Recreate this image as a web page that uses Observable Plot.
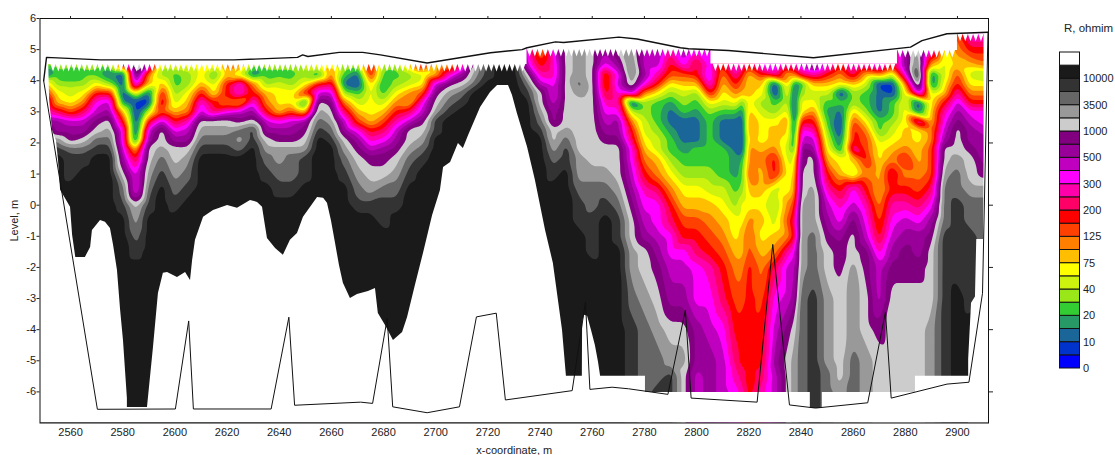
<!DOCTYPE html>
<html><head><meta charset="utf-8">
<script src="https://cdn.jsdelivr.net/npm/d3@7"></script>
<script src="https://cdn.jsdelivr.net/npm/@observablehq/plot@0.6"></script>
<style>
html,body{margin:0;padding:0;background:#fff;overflow:hidden}
#wrap{position:relative;width:1115px;height:455px;font-family:"Liberation Sans",Arial,sans-serif}
#wrap svg{display:block}
#leg{position:absolute;left:1059px;top:52px}
#ttl{position:absolute;left:1064px;top:22px;font-size:11.5px;color:#222}
</style></head><body><div id="wrap"><div id="main"></div><div id="leg"></div><div id="ttl">R, ohmim</div></div>
<script>
// resistivity classes (index = class), bottom to top of the legend
const classColors=["#0000ff","#0033cc","#1a6699","#269966","#33cc33","#99e619","#ccf20d","#ffff00","#ffbf00","#ff8000","#ff4000","#ff0000","#ff0066","#ff00aa","#ff00ff","#bf00bf","#990099","#800080","#cccccc","#999999","#666666","#333333","#1a1a1a","#ffffff"];
const legendLabels=["0","10","20","40","75","125","200","300","500","1000","3500","10000"];
const xTicks=[2560,2580,2600,2620,2640,2660,2680,2700,2720,2740,2760,2780,2800,2820,2840,2860,2880,2900];
const yTicks=[-6,-5,-4,-3,-2,-1,0,1,2,3,4,5,6];
const levels=[5,4.5,4.2,3.9,3.6,3.3,3,2.7,2.4,2.1,1.8,1.5,1,.5,0,-.5,-1,-1.5,-2,-3,-4,-5,-5.5,-6,-6.5];
const xs=[2550,2555,2560,2565,2570,2575,2580,2585,2590,2595,2600,2605,2610,2615,2620,2625,2630,2635,2640,2645,2650,2655,2660,2665,2670,2675,2680,2685,2690,2695,2700,2705,2710,2715,2720,2725,2730,2735,2740,2745,2750,2755,2760,2765,2770,2775,2780,2785,2790,2795,2800,2805,2810,2815,2817.5,2820,2825,2830,2835,2837.5,2840,2845,2850,2855,2860,2865,2870,2875,2880,2885,2890,2895,2900,2905,2910];
const columns=[
[5,5,1,8,11,14,14,16,18,20,22,22,22,22],
[5,5,4,5,7,8,12,16,16,19,21,22],
[5,5,3,5,6,7,10,15,16,17,20,21,21,22],
[5,5,4,5,7,9,12,15,16,18,20,21,22],
[5,5,4,7,11,14,15,17,18,20,21,22],
[5,5,2,5,11,15,16,18,19,20,21,22],
[11,11,1,1,1,3,8,11,14,14,15,16,18,20,21,22],
[20,20,18,15,7,1,1,1,1,2,8,11,14,14,18,19,20,21,22],
[15,15,9,8,2,1,6,11,15,16,18,18,19,20,21,22],
[6,6,5,8,11,12,10,15,18,18,19,20,21,22],
[7,7,4,4,5,6,8,11,14,16,18,18,19,20,21,22],
[7,7,5,5,7,8,9,13,15,16,18,19,20,21,22],
[7,7,7,8,11,14,15,18,19,20,21,22],
[7,7,4,6,7,11,12,18,19,20,21,22],
[9,9,8,11,11,9,14,18,19,20,21,22],
[9,9,6,14,14,8,15,17,20,19,20,22],
[5,5,2,9,11,14,16,18,21,21,22],
[5,5,4,5,8,9,11,15,16,18,19,20,21,22],
[5,5,4,6,7,7,8,14,16,17,19,19,20,21,22],
[5,5,4,5,7,7,10,15,16,17,19,20,20,21,22],
[6,6,5,7,11,2,8,16,17,18,19,21,21,22],
[7,7,3,11,15,18,19,20,21,22],
[7,7,9,12,15,17,18,19,20,21,22],
[5,5,4,2,5,9,12,15,16,18,19,20,21,22],
[5,5,2,1,4,6,8,10,14,16,17,18,19,20,21,22],
[12,12,11,8,7,7,7,8,11,13,15,17,18,19,21,22],
[5,5,4,3,4,6,8,10,12,14,16,17,18,20,21,21,22],
[5,5,4,5,7,9,11,13,15,16,17,18,19,20,21,22],
[8,8,5,6,9,8,12,15,18,18,19,20,21,22],
[12,12,6,7,10,14,15,17,18,19,20,21,22],
[8,8,8,15,17,18,19,21,21,22],
[8,8,13,17,19,20,21,22],
[12,12,16,18,20,21,22],
[18,18,19,20,22],
[21,21,21,22],
[22],
[22],
[14,15,18,20,21,22],
[9,11,13,15,18,18,19,20,21,22],
[14,13,13,14,14,15,16,16,18,18,19,20,21,22],
[18,18,18,18,18,18,18,18,19,20,21,21,22],
[19,19,19,20,19,18,18,18,18,18,18,19,19,20,21,21,22],
[18,18,18,18,18,18,18,18,18,18,18,18,19,20,20,21,21,21,22],
[16,14,10,10,11,13,14,15,16,17,18,18,19,20,21,22],
[18,16,14,15,14,13,14,16,16,17,18,18,18,19,20,21,21,22],
[19,20,20,19,15,1,6,9,11,12,14,14,15,16,17,18,18,19,19,20,21,21,21],
[15,15,16,14,9,5,5,6,6,7,8,9,11,13,14,15,16,18,18,19,20,20,20],
[16,15,13,11,7,4,4,4,5,6,6,8,9,12,14,14,15,16,17,18,19,20,20,21],
[13,11,10,7,5,3,2,2,3,4,4,5,7,9,11,12,14,14,15,16,18,19,21,21],
[16,14,10,8,6,5,4,2,2,2,3,4,5,7,8,10,11,14,15,16,18,19,18,18],
[14,11,11,8,5,4,3,2,2,2,4,4,5,7,8,10,11,12,14,14,16,16,15,15],
[15,14,15,14,11,7,5,4,4,4,4,4,5,6,8,9,10,11,13,14,15,16,16,16],
[11,11,9,8,7,6,4,2,2,2,4,4,4,6,7,8,9,10,11,12,14,15,15,15],
[14,14,13,11,9,7,4,2,2,2,2,3,3,4,5,7,7,8,9,10,11,12,13,14],
[14,13,11,9,8,4,2,1,1,1,1,3,4,5,7,7,8,8,9,10,11,11,12,13],
[11,11,8,8,8,7,8,9,9,8,9,9,10,8,7,9,10,10,11,11,11,11,11,11],
[15,14,11,8,7,5,6,7,7,7,8,9,8,8,7,8,7,8,9,10,11,11,12,13],
[15,15,13,1,1,4,5,7,8,8,9,11,11,6,5,6,8,9,12,14,15,16,15,15],
[13,13,8,8,7,6,7,9,8,7,6,6,7,7,9,10,9,13,15,15,17,18,18,18],
[13,13,9,2,1,1,1,1,1,2,3,6,7,8,10,12,11,14,15,16,18,19,19,19],
[15,15,12,3,5,7,7,11,14,15,17,17,18,18,19,19,19,19,19,20,20,20,20,20],
[17,17,13,8,6,7,9,11,13,15,16,18,18,19,19,19,20,20,20,21,21,21,21,21,21],
[14,14,11,8,6,4,3,4,5,6,7,8,11,13,15,16,17,18,18,19,19,19,20,20],
[11,11,9,7,1,4,2,1,1,2,3,7,8,11,13,14,16,17,17,18,18,18,18,19],
[14,14,12,8,5,5,8,10,11,11,13,8,6,14,15,17,18,18,19,19,19,20,20,20],
[13,13,8,6,4,4,5,7,9,10,10,11,9,11,13,14,15,17,17,18,18,19,19,19],
[15,15,9,1,2,2,2,4,4,6,7,7,8,8,9,10,11,13,15,15,17,18,18,18],
[11,11,6,1,1,4,4,5,6,7,8,9,12,11,13,14,15,16,17,18,18,18,18,18],
[16,16,14,9,7,7,7,7,8,8,9,11,9,11,13,15,16,17,17,18,18,18,18,18],
[19,20,22,20,15,1,2,14,7,7,8,8,9,10,12,14,16,16,17,18,18,18,18,18],
[14,8,2,2,6,7,8,8,9,9,10,10,10,12,14,16,17,18,18,18,19,19,19,19],
[7,6,6,7,8,11,13,14,15,16,18,18,19,20,20,20,21,21,21,21,21,21,21,21],
[9,8,10,11,13,15,16,17,18,18,18,19,20,20,21,21,21,21,21,22,22,22,22],
[11,8,6,7,9,11,14,15,16,16,17,18,18,19,20,20,21,21,21,21,22,22,22],
[11,9,5,7,9,11,14,14,15,16,16,16,17,19,20,20,20,21,21,22]
];
const crestX=[2900,2905,2910];
const crestV=[10,14,14];
// upper edge of the sampled data, left/right limits
const dataTopX=[2548.3,2735,2805.5,2877,2900,2911.9];
const dataTopY=[4.52,5,4.54,4.97,5.49,5.49];
const leftEdgeX=[2551.6,2551.6,2552,2553.1,2554.6,2555.4,2556.2,2560,2560.8,2562,2562];
const leftEdgeY=[6,4.65,3.37,2.4,2.08,1.44,.48,-.07,-.97,-1.67,-7];
const rightEdgeX=[2910.2,2910.2,2910,2910,2907.4,2906.9,2905.4,2904.3,2904.3];
const rightEdgeY=[6,1.4,-.7,-1.1,-1.1,-2.95,-3.15,-4.95,-7];
// where the unfilled (white, above 10000) ground begins, walking along x
const voidX=[2561.9,2565.7,2567.7,2568.4,2571.5,2573.4,2575.3,2576.5,2578,2579.2,2580.3,2581.8,2581.8,2589.5,2591.8,2593.7,2595.6,2597.2,2601,2604.1,2606,2606.8,2607.9,2611,2614.8,2620.2,2624,2629,2631.7,2633.6,2634.7,2635.5,2638.6,2641.6,2644.3,2647,2649.3,2654.7,2657,2658.5,2660,2661.6,2663.1,2664.6,2667.3,2670,2674.2,2676.9,2678,2680.7,2683.8,2687.3,2689.2,2692.2,2695.3,2698.8,2701.8,2703,2705.7,2708.7,2710.6,2712.6,2717.2,2721,2723.7,2727.9,2729.4,2731.3,2735.2,2738.2,2742.1,2745.1,2748.6,2750.1,2756.2,2756.3,2757,2758.2,2759.7,2761.2,2762.4,2763.2,2780.4,2780.4,2843.6,2843.6,2848.2,2848.2,2883.9,2883.9,2911.9];
const voidY=[-1.68,-1.68,-1.36,-.81,-.49,-.55,-.75,-1.29,-2.1,-3.38,-4.35,-6.21,-6.5,-6.5,-4.57,-2.84,-2.19,-2.16,-2.32,-2.16,-2.42,-1.78,-1.13,-.39,-.17,-.01,-.1,.15,.09,-.07,-.65,-1.07,-1.39,-1.61,-1.13,-.91,-.39,.25,.22,.06,-.49,-1.23,-1.94,-2.51,-3,-2.87,-2.77,-2.68,-3.48,-3.86,-4.35,-4.09,-3.61,-2.58,-1.55,-.33,.47,1.21,1.37,1.98,1.82,2.24,3.14,3.62,3.85,3.85,3.53,2.95,1.86,.8,-.81,-1.87,-4.02,-5.5,-5.5,-3.77,-3.54,-3.57,-4.02,-4.51,-5.05,-5.5,-5.5,-6.02,-6.02,-6.53,-6.53,-6.02,-6.02,-5.5,-5.5];
// sounding outline
const lineTopX=[2549.7,2550.8,2571.5,2622.6,2647,2649,2651,2663,2672,2678.8,2696.7,2721,2733.1,2735,2745.9,2749,2770.2,2777.2,2793.8,2796.9,2812.2,2844.8,2882,2886.4,2896,2911.7];
const lineTopY=[4,4.75,4.67,4.67,4.75,4.83,4.78,4.91,4.91,4.83,4.57,4.9,5,5.06,5.25,5.23,5.4,5.34,5.06,5.03,4.97,4.74,5.08,5.29,5.51,5.56];
const lineLowX=[2549.7,2570.3,2600.2,2605.3,2607.1,2636.9,2643.7,2645.9,2671.2,2675.8,2681.4,2683.5,2696.7,2709.1,2715.6,2723.2,2726.7,2752.3,2757.4,2759.1,2767.6,2773.9,2789,2795.7,2797.9,2823.2,2829.2,2835.6,2845.6,2865.6,2872.4,2874.6,2896,2904.4,2909.6,2911.7];
const lineLowY=[4,-6.56,-6.55,-3.72,-6.55,-6.55,-3.6,-6.43,-6.33,-6.37,-3.64,-6.48,-6.67,-6.48,-3.59,-3.47,-6.26,-5.96,-3.11,-5.92,-5.85,-5.9,-6.08,-3.37,-6.2,-6.33,-1.26,-6.42,-6.52,-6.35,-3.43,-6.2,-5.75,-5.69,-2.83,5.56];

const points=[];
columns.forEach((c,i)=>{
  const col=levels.map((_,k)=>k<c.length?c[k]:c[c.length-1]);
  const ci=crestX.indexOf(xs[i]);
  const top=ci>=0?crestV[ci]:col[0];
  const place=X=>{
    points.push({x:X,y:6.1,v:top});
    if(ci>=0) points.push({x:X,y:5.5,v:top});
    col.forEach((v,k)=>points.push({x:X,y:levels[k],v}));
    points.push({x:X,y:-7.1,v:col[col.length-1]});
  };
  place(xs[i]);
  if(i===0) place(2548);
  if(i===columns.length-1) place(2912.2);
});
const notch=[];
[[2553.3,2735,4.52],[2736,2805.5,5],[2807.2,2877,4.54],[2878,2900,4.97],[2901,2910,5.49]].forEach(([a,b,y])=>{
  for(let x=a;x<b;x+=2) notch.push({x,y});
});
const toothDown={draw(c){c.moveTo(-2.65,-0.5);c.lineTo(2.65,-0.5);c.lineTo(0,7);c.closePath();}};
const font={fontFamily:"Liberation Sans, Arial, sans-serif",fontSize:"11px",color:"#222",background:"transparent"};
const blank=()=>"";

const chart=Plot.plot({
  width:1115,height:455,marginLeft:39.5,marginRight:127,marginTop:18,marginBottom:32.5,
  style:font,
  x:{domain:[2548.3,2911.9]},
  y:{domain:[-7,6]},
  color:{type:"threshold",domain:d3.range(.5,23),range:classColors},
  marks:[
    Plot.contour(points,{x:"x",y:"y",value:"v",fill:"value",stroke:"none",interpolate:"barycentric",pixelSize:1,blur:2,thresholds:d3.range(-.5,22)}),
    Plot.area(voidX,{x1:voidX,x2:voidX,y1:voidY,y2:voidX.map(()=>-7),fill:"white"}),
    Plot.area(dataTopX,{x1:dataTopX,x2:dataTopX,y1:dataTopY,y2:dataTopX.map(()=>6),fill:"white",curve:"step-after"}),
    Plot.area(leftEdgeX,{y1:leftEdgeY,y2:leftEdgeY,x1:leftEdgeX.map(()=>2548.3),x2:leftEdgeX,fill:"white"}),
    Plot.area(rightEdgeX,{y1:rightEdgeY,y2:rightEdgeY,x1:rightEdgeX,x2:rightEdgeX.map(()=>2911.9),fill:"white"}),
    Plot.dot(notch,{x:"x",y:"y",symbol:toothDown,fill:"white",stroke:"none"}),
    Plot.line(lineLowX,{x:lineLowX,y:lineLowY,stroke:"#111",strokeWidth:1}),
    Plot.line(lineTopX,{x:lineTopX,y:lineTopY,stroke:"#111",strokeWidth:1.4}),
    Plot.frame({stroke:"#111"}),
    Plot.axisX({anchor:"bottom",ticks:xTicks,tickSize:0,tickPadding:5,tickFormat:d=>String(d),label:"x-coordinate, m",labelAnchor:"center",labelArrow:"none",labelOffset:31}),
    Plot.axisX({anchor:"top",ticks:xTicks,tickSize:3,tickFormat:blank,label:null}),
    Plot.axisY({anchor:"left",ticks:yTicks,tickSize:3,tickPadding:1,tickFormat:d=>String(d),label:"Level, m",labelAnchor:"center",labelArrow:"none",labelOffset:30}),
    Plot.axisY({anchor:"right",ticks:[-6,-4,-2,0,2,4],tickSize:4,tickFormat:blank,label:null})
  ]
});
document.getElementById("main").append(chart);

const idx=d3.range(classColors.length);
const legend=Plot.plot({
  width:56,height:330,marginLeft:.5,marginRight:35.5,marginTop:0,marginBottom:14,
  style:{...font,overflow:"visible"},
  x:{domain:[0,1],axis:null},
  y:{domain:[0,24],axis:null},
  marks:[
    Plot.rect(idx,{x1:idx.map(()=>0),x2:idx.map(()=>1),y1:idx,y2:idx.map(i=>i+1),fill:i=>classColors[i],stroke:"#111",strokeWidth:1}),
    Plot.axisY({anchor:"right",ticks:d3.range(0,24,2),tickSize:0,tickPadding:3,tickFormat:d=>legendLabels[d/2],label:null})
  ]
});
document.getElementById("leg").append(legend);
</script></body></html>
